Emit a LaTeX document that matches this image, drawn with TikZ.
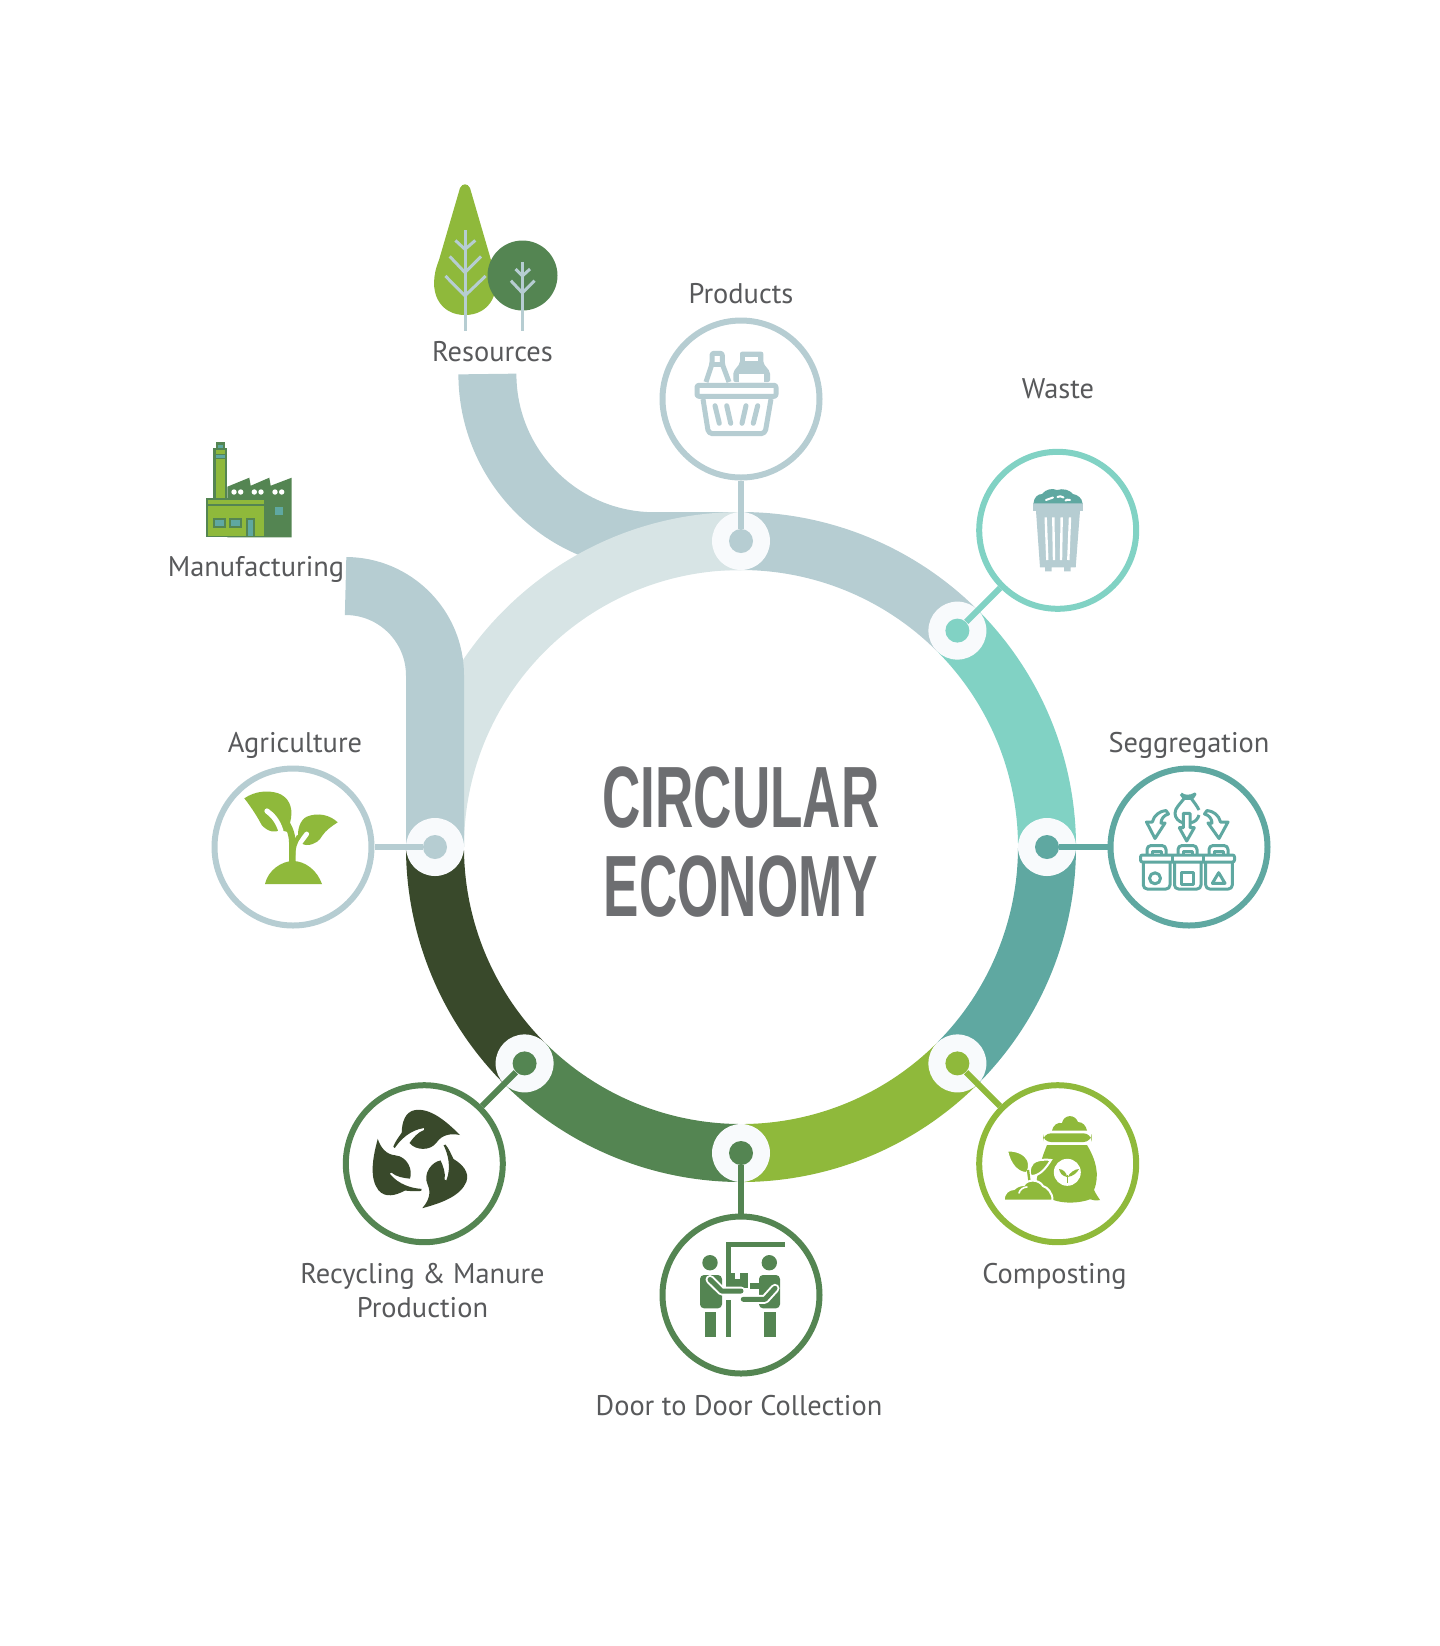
\documentclass[tikz,border=0pt]{standalone}
\usepackage{fontspec}
\setmainfont{PT Sans}
\newfontfamily\titlefont[FakeStretch=0.61]{Liberation Sans}
\definecolor{paleband}{HTML}{D7E4E5}
\definecolor{mistband}{HTML}{B6CDD2}
\definecolor{mintband}{HTML}{81D2C4}
\definecolor{tealband}{HTML}{5FA8A1}
\definecolor{limeband}{HTML}{8FB93B}
\definecolor{forestband}{HTML}{548552}
\definecolor{darkband}{HTML}{39492B}
\definecolor{halotint}{HTML}{F8FAFC}
\definecolor{labelgrey}{HTML}{58595B}
\definecolor{titlegrey}{HTML}{6D6E71}
\tikzset{
  band/.style={draw=#1,line width=29pt},
  halo/.style={circle,fill=halotint,minimum size=29pt,inner sep=0pt},
  hubdot/.style={circle,fill=#1,minimum size=12pt,inner sep=0pt},
  disc/.style={circle,draw=#1,line width=3pt,fill=white,minimum size=78.5pt,inner sep=0pt},
  link/.style={draw=#1,line width=3pt},
  lbl/.style={anchor=base,text=labelgrey,font=\fontsize{14.2}{17}\selectfont,align=center},
  stroke/.style={draw=#1,line width=2.5pt,line join=round},
  thin stroke/.style={draw=#1,line width=1.5pt,line join=round},
  twig/.style={draw=mistband,line width=1.5pt}
}
\begin{document}
\begin{tikzpicture}[x=0.5pt,y=-0.5pt]
  \useasboundingbox (0,0) rectangle (1440,1646);

  % bands
  \draw[band=mistband] (487.4,374) arc[start angle=180,end angle=270,radius=83.6pt] -- (741,541);
  \draw[band=paleband] (435,847) arc[start angle=180,end angle=90,radius=153pt];
  \draw[band=mistband] (741,541) arc[start angle=90,end angle=45,radius=153pt];
  \draw[band=mintband] (957.4,630.6) arc[start angle=45,end angle=0,radius=153pt];
  \draw[band=tealband] (1047,847) arc[start angle=0,end angle=-45,radius=153pt];
  \draw[band=limeband] (957.4,1063.4) arc[start angle=-45,end angle=-90,radius=153pt];
  \draw[band=forestband] (741,1153) arc[start angle=-90,end angle=-135,radius=153pt];
  \draw[band=darkband] (524.6,1063.4) arc[start angle=-135,end angle=-180,radius=153pt];
  \draw[band=mistband] (345.6,586) arc[start angle=90,end angle=0,radius=44.7pt] -- (435,847);

  % hubs
  \node[halo] (haloProducts) at (741,541) {};
  \node[halo] (haloWaste) at (957.4,630.6) {};
  \node[halo] (haloSeg) at (1047,847) {};
  \node[halo] (haloCompost) at (957.4,1063.4) {};
  \node[halo] (haloDoor) at (741,1153) {};
  \node[halo] (haloRecycle) at (524.6,1063.4) {};
  \node[halo] (haloAgri) at (435,847) {};

  \node[hubdot=mistband] (dotProducts) at (741,541) {};
  \node[hubdot=mintband] (dotWaste) at (957.4,630.6) {};
  \node[hubdot=tealband] (dotSeg) at (1047,847) {};
  \node[hubdot=limeband] (dotCompost) at (957.4,1063.4) {};
  \node[hubdot=forestband] (dotDoor) at (741,1153) {};
  \node[hubdot=forestband] (dotRecycle) at (524.6,1063.4) {};
  \node[hubdot=mistband] (dotAgri) at (435,847) {};

  % discs
  \node[disc=mistband] (discProducts) at (741,399) {};
  \node[disc=mintband] (discWaste) at (1057.7,530.3) {};
  \node[disc=tealband] (discSeg) at (1189,847) {};
  \node[disc=limeband] (discCompost) at (1057.7,1163.7) {};
  \node[disc=forestband] (discDoor) at (741,1295) {};
  \node[disc=forestband] (discRecycle) at (424.3,1163.7) {};
  \node[disc=mistband] (discAgri) at (293,847) {};

  \draw[link=mistband] (dotProducts) -- (discProducts);
  \draw[link=mintband] (dotWaste) -- (discWaste);
  \draw[link=tealband] (dotSeg) -- (discSeg);
  \draw[link=limeband] (dotCompost) -- (discCompost);
  \draw[link=forestband] (dotDoor) -- (discDoor);
  \draw[link=forestband] (dotRecycle) -- (discRecycle);
  \draw[link=mistband] (dotAgri) -- (discAgri);

  % labels
  \node[lbl] (lblProducts) at (741,303) {Products};
  \node[lbl] (lblWaste) at (1058,398) {Waste};
  \node[lbl] (lblSeg) at (1189,752) {Seggregation};
  \node[lbl] (lblCompost) at (1054.5,1283) {Composting};
  \node[lbl] (lblDoor) at (739,1415) {Door to Door Collection};
  \node[lbl] (lblRecycle) at (422.5,1317) {Recycling \& Manure\\Production};
  \node[lbl] (lblAgri) at (295,752) {Agriculture};
  \node[lbl] (lblManufacturing) at (256,576) {Manufacturing};
  \node[lbl] (lblResources) at (492.5,361) {Resources};
  \node[anchor=base,align=center,text=titlegrey,font=\titlefont\bfseries\fontsize{43.5}{44.5}\selectfont] (title) at (741,916) {CIRCULAR\\ECONOMY};

  % trees
  \fill[limeband] (460,188) .. controls (462.5,183) and (467.5,183) .. (470,188) -- (491,260) .. controls (504,292) and (490,315) .. (465,315) .. controls (440,315) and (426,292) .. (439,260) -- cycle;
  \fill[forestband] (522.5,275.5) circle (35);
  \draw[twig] (465,230.4) -- (465,330.7);
  \draw[twig] (455.4,240.4) -- (465,249.3) -- (475.3,240.4);
  \draw[twig] (449.7,256.4) -- (465,272.5) -- (481,256.4);
  \draw[twig] (445.4,276) -- (465,295.7) -- (485.6,276);
  \draw[twig] (522.4,261.8) -- (522.4,330.7);
  \draw[twig] (515.5,269) -- (522.4,276) -- (530,269);
  \draw[twig] (510.9,280.7) -- (522.4,292.9) -- (534.6,280.7);

  % factory
  \fill[forestband] (227.3,486.7) -- (249.3,477.7) -- (250.7,485.7) -- (269.3,477.7) -- (270.7,485.7) -- (291.7,477.7) -- (291.7,537.3) -- (227.3,537.3) -- cycle;
  \fill[white] (234,492) circle (2.7) (240.7,492) circle (2.7) (254.3,492) circle (2.7) (261,492) circle (2.7) (275,492) circle (2.7) (281.7,492) circle (2.7);
  \fill[tealband] (275,507.3) rectangle (283.3,515);
  \fill[forestband] (213.3,448.3) rectangle (227.3,498.3);
  \fill[limeband] (215.5,459) rectangle (225,498.3);
  \fill[limeband] (215.5,450) rectangle (225,454);
  \fill[tealband] (215.5,455) rectangle (225,458);
  \fill[forestband] (216,442.3) rectangle (225,448.3);
  \fill[tealband] (218,445) rectangle (223,447.5);
  \fill[forestband] (206,498.3) rectangle (265.7,537.3);
  \fill[limeband] (208,500) rectangle (264.3,504);
  \fill[limeband] (208,506) rectangle (264.3,535.5);
  \fill[forestband] (212.7,518.3) rectangle (225.7,528.3);
  \fill[forestband] (229.3,518.3) rectangle (242.3,528.3);
  \fill[forestband] (246,518.3) rectangle (255,535.5);
  \fill[tealband] (214.7,520.3) rectangle (223.7,526.3);
  \fill[tealband] (231.3,520.3) rectangle (240.3,526.3);
  \fill[tealband] (248,520.3) rectangle (253,535.5);

  % basket
  \draw[stroke=mistband,rounded corners=1pt] (697,385.3) rectangle (776,396.3);
  \draw[stroke=mistband,rounded corners=2pt] (703,399) -- (708.5,433.7) -- (765,433.7) -- (771,399);
  \draw[stroke=mistband,line cap=round] (715,405.7) -- (719.3,423.3);
  \draw[stroke=mistband,line cap=round] (726.7,405.7) -- (730.7,423.3);
  \draw[stroke=mistband,line cap=round] (746,405.7) -- (742,423.3);
  \draw[stroke=mistband,line cap=round] (757.7,405.7) -- (753.3,423.3);
  \draw[stroke=mistband,rounded corners=1pt] (706,382) -- (712,364) -- (712,353.3) -- (722.3,353.3) -- (722.3,364) -- (729,382);
  \draw[stroke=mistband] (711,364) -- (723,364);
  \fill[mistband,rounded corners=1pt] (733.3,382) -- (733.3,371.7) -- (740,363.3) -- (740,351.7) -- (763.3,351.7) -- (763.3,363.3) -- (770,371.7) -- (770,382) -- cycle;
  \fill[white] (745.3,356.7) rectangle (758.3,360.7);
  \fill[white] (739,374.3) rectangle (764.3,382.3);

  % bin
  \fill[mistband] (1036,511) -- (1040,567.3) -- (1045,567.3) -- (1045,571.3) -- (1051.7,571.3) -- (1051.7,567.3) -- (1064,567.3) -- (1064,571.3) -- (1070.7,571.3) -- (1070.7,567.3) -- (1075.7,567.3) -- (1080,511) -- cycle;
  \fill[mistband] (1033.3,503.3) rectangle (1082.7,511);
  \fill[tealband] (1033.5,503.3) .. controls (1034,497) and (1038,494) .. (1042,494) .. controls (1046,489) and (1052,488) .. (1057,490) .. controls (1063,488) and (1070,490) .. (1073,494) .. controls (1078,495) and (1082,498) .. (1082.5,503.3) -- cycle;
  \draw[white,line width=1pt,line cap=round] (1046,500) .. controls (1049,498) .. (1053,497.5);
  \draw[white,line width=1pt,line cap=round] (1057.5,497) .. controls (1060,496) .. (1063.5,497.5);
  \draw[white,line width=1pt,line cap=round] (1065.5,500.5) .. controls (1067,499.5) .. (1070,500);
  \draw[white,line width=1.2pt] (1045.7,517.3) -- (1047.3,560);
  \draw[white,line width=1.2pt] (1053.3,517.3) -- (1054,560);
  \draw[white,line width=1.2pt] (1061.7,517.3) -- (1061,560);
  \draw[white,line width=1.2pt] (1070,517.3) -- (1068.3,560);

  % sorting bins
  \draw[thin stroke=tealband,rounded corners=1pt] (1140.5,855) rectangle (1234.5,862);
  \draw[thin stroke=tealband] (1172.7,855) -- (1172.7,862) (1203.7,855) -- (1203.7,862);
  \draw[thin stroke=tealband,rounded corners=2pt] (1143.3,862) -- (1143.3,889) -- (1170,889) -- (1170,862);
  \draw[thin stroke=tealband,rounded corners=2pt] (1174.5,862) -- (1174.5,889) -- (1201,889) -- (1201,862);
  \draw[thin stroke=tealband,rounded corners=2pt] (1205.7,862) -- (1205.7,889) -- (1232.3,889) -- (1232.3,862);
  \draw[thin stroke=tealband,rounded corners=2pt] (1147,855) -- (1147,845.5) -- (1166,845.5) -- (1166,855);
  \draw[thin stroke=tealband,rounded corners=2pt] (1178,855) -- (1178,845.5) -- (1197,845.5) -- (1197,855);
  \draw[thin stroke=tealband,rounded corners=2pt] (1209,855) -- (1209,845.5) -- (1228,845.5) -- (1228,855);
  \draw[thin stroke=tealband] (1152,855) -- (1152,851) -- (1161,851) -- (1161,855);
  \draw[thin stroke=tealband] (1183,855) -- (1183,851) -- (1192,851) -- (1192,855);
  \draw[thin stroke=tealband] (1214,855) -- (1214,851) -- (1223,851) -- (1223,855);
  \draw[thin stroke=tealband] (1155,878.3) circle (5.5);
  \draw[thin stroke=tealband] (1181,872.7) rectangle (1193.3,884.3);
  \draw[thin stroke=tealband] (1212.3,883.3) -- (1225,883.3) -- (1218.7,872.7) -- cycle;
  \draw[thin stroke=tealband] (1183.3,813.3) -- (1183.3,827.7) -- (1179.3,827.7) -- (1186.7,841) -- (1194.3,827.7) -- (1190,827.7) -- (1190,813.3) -- cycle;
  \draw[thin stroke=tealband] (1181,794) .. controls (1185,797) and (1190,797) .. (1195,794) .. controls (1194,797) and (1192,798) .. (1191,798.3) -- (1184.3,798.3) .. controls (1183,797) and (1182,796) .. (1181,794);
  \draw[thin stroke=tealband] (1184.3,798.3) .. controls (1180,804) and (1175,808) .. (1175,813.3) .. controls (1175,818) and (1179,822) .. (1183,822.7);
  \draw[thin stroke=tealband] (1191,798.3) .. controls (1194,802) and (1197,806) .. (1199,810);
  \draw[thin stroke=tealband] (1199,815) .. controls (1198,819) and (1195,822) .. (1191,822.7);
  \draw[thin stroke=tealband] (1152.3,822) .. controls (1154,815) and (1160,811) .. (1166,810.5) -- (1168.5,814) .. controls (1164,815) and (1161,819) .. (1161,823) -- (1165,823) -- (1155,838.5) -- (1146.5,822) -- cycle;
  \draw[thin stroke=tealband] (1220.5,822) .. controls (1219,815) and (1213,811) .. (1207,810.5) -- (1204.5,814) .. controls (1209,815) and (1212,819) .. (1212,823) -- (1208,823) -- (1219,838.5) -- (1228,822) -- cycle;

  % compost bag
  \fill[limeband] (1052,1130.5) .. controls (1053,1125) and (1058,1122) .. (1062,1123) .. controls (1064,1114) and (1075,1114) .. (1078,1122) .. controls (1083,1122) and (1086,1126) .. (1087,1130.5) -- cycle;
  \fill[limeband,rounded corners=4pt] (1043,1133.3) rectangle (1091.5,1142);
  \fill[limeband] (1047,1145) -- (1087,1145) .. controls (1096,1160) and (1100,1175) .. (1094,1190) .. controls (1096,1194) and (1098,1197) .. (1100,1200) .. controls (1096,1201) and (1093,1200) .. (1090,1199.3) .. controls (1080,1203) and (1065,1204) .. (1053.3,1200) -- (1036,1190) .. controls (1036,1175) and (1041,1160) .. (1047,1145) -- cycle;
  \fill[white] (1067.3,1172.3) circle (13.5);
  \fill[limeband] (1059,1169) .. controls (1063,1169) and (1067,1173) .. (1067,1177) .. controls (1062,1176) and (1060,1173) .. (1059,1169) -- cycle;
  \fill[limeband] (1079,1169) .. controls (1075,1169) and (1069,1173) .. (1068,1177) .. controls (1073,1176) and (1077,1173) .. (1079,1169) -- cycle;
  \draw[limeband,line width=0.7pt] (1067.5,1175) -- (1067.5,1183);
  \fill[limeband,draw=white,line width=1pt] (1007,1150.5) .. controls (1017,1150) and (1025,1154) .. (1028,1160) .. controls (1030,1165) and (1029,1170) .. (1026.5,1173) .. controls (1018,1173) and (1010,1165) .. (1007,1150.5) -- cycle;
  \fill[limeband,draw=white,line width=1pt] (1051,1160) .. controls (1043,1159) and (1036,1160) .. (1033,1163) .. controls (1029,1168) and (1029,1173) .. (1031,1176) .. controls (1040,1176) and (1046,1168) .. (1051,1160) -- cycle;
  \draw[limeband,line width=1.2pt] (1028,1170) -- (1030,1185);
  \fill[limeband,draw=white,line width=1pt] (1004,1200.5) .. controls (1003,1193) and (1009,1189) .. (1014,1189) .. controls (1017,1186) and (1021,1185) .. (1024,1185) .. controls (1027,1179) and (1039,1179) .. (1043,1186) .. controls (1047,1187) and (1053,1193) .. (1052.5,1200.5) -- cycle;
  \draw[white,line width=0.8pt,line cap=round] (1019,1193) .. controls (1020,1189) and (1024,1187) .. (1027,1187);

  % door to door
  \fill[forestband] (726,1242.3) rectangle (785.3,1247.3);
  \fill[forestband] (726,1242.3) rectangle (731.3,1272.7);
  \fill[forestband] (726,1300) rectangle (731.3,1336.7);
  \fill[forestband] (710,1262.7) circle (7.7);
  \fill[forestband] (769.3,1262.7) circle (7.7);
  \fill[forestband,rounded corners=2pt] (700,1275) -- (722,1275) -- (722,1308.3) -- (700,1308.3) -- cycle;
  \fill[forestband,rounded corners=2pt] (759,1275) -- (780,1275) -- (780,1308.3) -- (759,1308.3) -- cycle;
  \fill[forestband] (705,1311.7) rectangle (715.7,1336.7);
  \fill[forestband] (764,1311.7) rectangle (775.7,1336.7);
  \fill[forestband] (726,1272.7) rectangle (748.3,1288.3);
  \fill[white] (735,1272.7) rectangle (740,1279.3);
  \fill[forestband] (750,1283.3) rectangle (760,1289.3);
  \draw[white,line width=4.5pt,line cap=round,line join=round] (710,1279.5) -- (721.7,1291) -- (741,1291);
  \draw[forestband,line width=2.5pt,line cap=round,line join=round] (710,1279.5) -- (721.7,1291) -- (741,1291);
  \draw[white,line width=4.5pt,line cap=round,line join=round] (775,1288.3) -- (765,1299.3) -- (743.3,1299.3);
  \draw[forestband,line width=2.5pt,line cap=round,line join=round] (775,1288.3) -- (765,1299.3) -- (743.3,1299.3);

  % recycling leaves
  \foreach \turn in {0,-120,-240}
    \fill[darkband,rotate around={\turn:(420,1160.7)}] (460,1135) .. controls (445,1120) and (430,1108) .. (415,1110) .. controls (405,1112) and (402,1122) .. (401.7,1132.7) .. controls (398,1138) and (395,1142) .. (393.3,1146.7) -- (394.8,1148) .. controls (400,1140) and (410,1130) .. (424,1128) -- (424,1130) .. controls (418,1132) and (413,1138) .. (409.5,1143) .. controls (415,1150) and (430,1152) .. (437,1142) .. controls (442,1135) and (450,1133) .. (460,1135) -- cycle;

  % sprout
  \fill[limeband] (265,884) .. controls (268,870) and (282,861) .. (293,861) .. controls (305,861) and (317,870) .. (322,884) -- cycle;
  \fill[limeband] (244.3,798.3) .. controls (255,791) and (268,790) .. (278.3,793.3) .. controls (288,797) and (293,806) .. (291,818.3) -- (288,832) -- (280,830) .. controls (275,833) and (268,832) .. (261.7,825) .. controls (258,818) and (252,808) .. (244.3,798.3) -- cycle;
  \fill[limeband] (337.7,822.3) .. controls (330,815) and (318,812) .. (306.7,816.7) .. controls (300,820) and (297,830) .. (298.3,838.3) .. controls (300,843) and (303,845) .. (306.7,845) .. controls (315,845) and (320,840) .. (322,836) .. controls (326,830) and (332,826) .. (337.7,822.3) -- cycle;
  \draw[white,line width=2.6pt,line cap=round] (267,811) .. controls (272,815) and (277,819) .. (281,831);
  \draw[white,line width=2.4pt,line cap=round] (306.7,834) -- (299,844.3);
  \draw[limeband,line width=3.3pt] (292.3,863) -- (292.3,842) .. controls (292,832) and (288,825) .. (283,818);
  \draw[limeband,line width=2.2pt] (293,856) .. controls (293,848) and (295,842) .. (299,836);
\end{tikzpicture}
\end{document}
